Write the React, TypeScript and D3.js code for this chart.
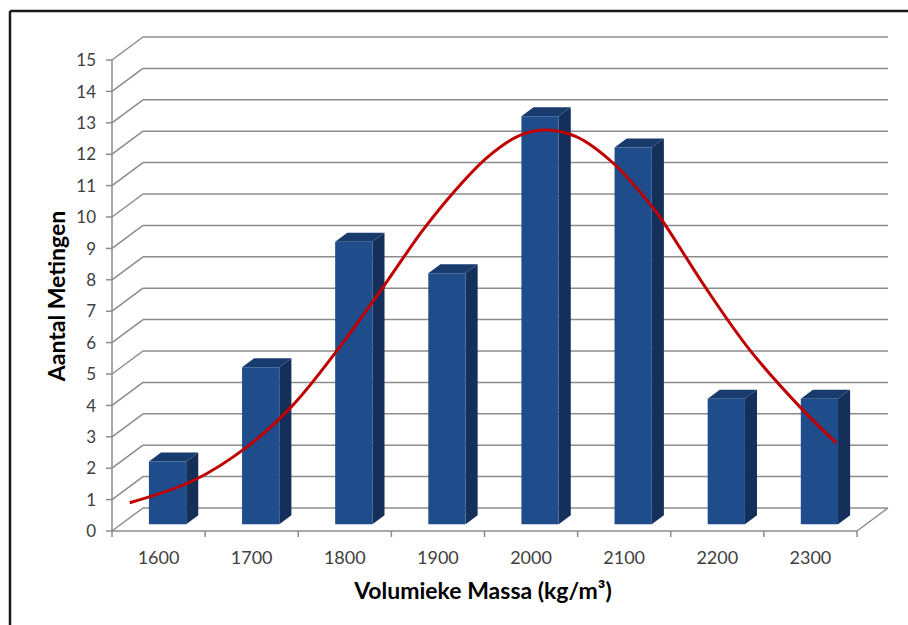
import * as d3 from 'd3';
import React from 'react';

// bar data
const categories = ['1600', '1700', '1800', '1900', '2000', '2100', '2200', '2300'];
const counts = [2, 5, 9, 8, 13, 12, 4, 4];
const yTickValues = [0, 1, 2, 3, 4, 5, 6, 7, 8, 9, 10, 11, 12, 13, 14, 15];

// fitted curve (kg/m3, count)
const curveKg = [1569, 1637, 1695, 1744, 1792, 1843, 1883, 1916, 1953, 1988, 2017, 2049, 2088, 2131, 2144, 2189, 2235, 2292, 2328];
const curveVal = [0.9, 1.6, 2.68, 4.0, 5.76, 7.85, 9.55, 10.76, 11.9, 12.6, 12.77, 12.55, 11.72, 10.29, 9.75, 7.68, 5.76, 3.85, 2.8];

const yTitle = 'Aantal Metingen';
const xTitle = 'Volumieke Massa (kg/m³)';

const W = 908;
const H = 625;
const left = 112;
const right = 857;
const floorY = 531;
const topY = 60;
const DX = 31;  // depth offset of the back wall
const DY = -23;

const font = 'Lato, Calibri, "Open Sans", sans-serif';
const gridColor = '#8c8c8c';

export default function App() {
    const x = d3.scaleBand().domain(categories).range([left, right]).paddingInner(0).paddingOuter(0);
    const xLin = d3.scaleLinear().domain([1550, 2350]).range([left, right]);
    const y = d3.scaleLinear().domain([0, 15]).range([floorY, topY]);

    const proj = (px: number, py: number, d: number): [number, number] => [px + DX * d, py + DY * d];
    const pts = (arr: [number, number][]) => arr.map(p => p.join(',')).join(' ');

    const d0 = 0.29;
    const d1 = 0.68;
    const bw = x.bandwidth() * 0.4;

    const line = d3.line<number>()
        .x((d, i) => xLin(curveKg[i]))
        .y(d => y(d))
        .curve(d3.curveCatmullRom.alpha(0.5));

    const bounds = categories.map((c, i) => x(c) as number).concat([right]);

    return (
        <svg width={W} height={H} style={{ position: 'absolute', left: 0, top: 0, background: '#fff' }}>
            {/* frame */}
            <line x1={10} y1={11} x2={W} y2={11} stroke="#1a1a1a" strokeWidth={2.5} />
            <line x1={10} y1={11} x2={10} y2={H} stroke="#1a1a1a" strokeWidth={2.5} />

            {/* back wall grid + side wall diagonals */}
            {yTickValues.map(v => {
                const [bx, by] = proj(left, y(v), 1);
                return (
                    <g key={'g' + v}>
                        <line x1={bx} y1={by} x2={right + DX} y2={by} stroke={gridColor} strokeWidth={1.5} />
                        <line x1={left} y1={y(v)} x2={bx} y2={by} stroke={gridColor} strokeWidth={1.5} />
                    </g>
                );
            })}

            {/* floor */}
            <line x1={left} y1={floorY} x2={right} y2={floorY} stroke={gridColor} strokeWidth={1.5} />
            <line x1={right} y1={floorY} x2={right + DX} y2={floorY + DY} stroke={gridColor} strokeWidth={1.5} />
            <line x1={left} y1={topY} x2={left} y2={floorY} stroke={gridColor} strokeWidth={1.5} />

            {/* y ticks */}
            {yTickValues.map(v => (
                <g key={'t' + v}>
                    <line x1={left - 6} y1={y(v)} x2={left} y2={y(v)} stroke={gridColor} strokeWidth={1.5} />
                    <text x={96} y={y(v)} dy="0.36em" textAnchor="end" fontFamily={font} fontSize={17} fill="#404040">{v}</text>
                </g>
            ))}

            {/* x ticks */}
            {bounds.map((bx, i) => (
                <line key={'xt' + i} x1={bx} y1={floorY} x2={bx} y2={floorY + 6} stroke={gridColor} strokeWidth={1.5} />
            ))}
            {categories.map(c => (
                <text key={'xl' + c} x={(x(c) as number) + x.bandwidth() / 2} y={558} dy="0.36em" textAnchor="middle"
                    fontFamily={font} fontSize={18} fill="#404040">{c}</text>
            ))}

            {/* bars */}
            {categories.map((c, i) => {
                const cx = (x(c) as number) + x.bandwidth() / 2;
                const xl = cx - bw / 2;
                const xr = cx + bw / 2;
                const yb = y(0);
                const yt = y(counts[i]);
                const fBL = proj(xl, yb, d0), fBR = proj(xr, yb, d0), fTR = proj(xr, yt, d0), fTL = proj(xl, yt, d0);
                const bBR = proj(xr, yb, d1), bTR = proj(xr, yt, d1), bTL = proj(xl, yt, d1);
                return (
                    <g key={'b' + c}>
                        <polygon points={pts([fBR, bBR, bTR, fTR])} fill="#132f5a" />
                        <polygon points={pts([fTL, fTR, bTR, bTL])} fill="#183b6e" />
                        <polygon points={pts([fBL, fBR, fTR, fTL])} fill="#1f4c8a" />
                    </g>
                );
            })}

            {/* fitted curve */}
            <path d={line(curveVal) || ''} fill="none" stroke="#c00000" strokeWidth={3} />

            {/* titles */}
            <text transform="translate(65,296) rotate(-90)" textAnchor="middle" fontFamily={font} fontSize={23}
                fontWeight="bold" fill="#000">{yTitle}</text>
            <text x={483} y={599} textAnchor="middle" fontFamily={font} fontSize={23} fontWeight="bold" fill="#000">{xTitle}</text>
        </svg>
    );
}
